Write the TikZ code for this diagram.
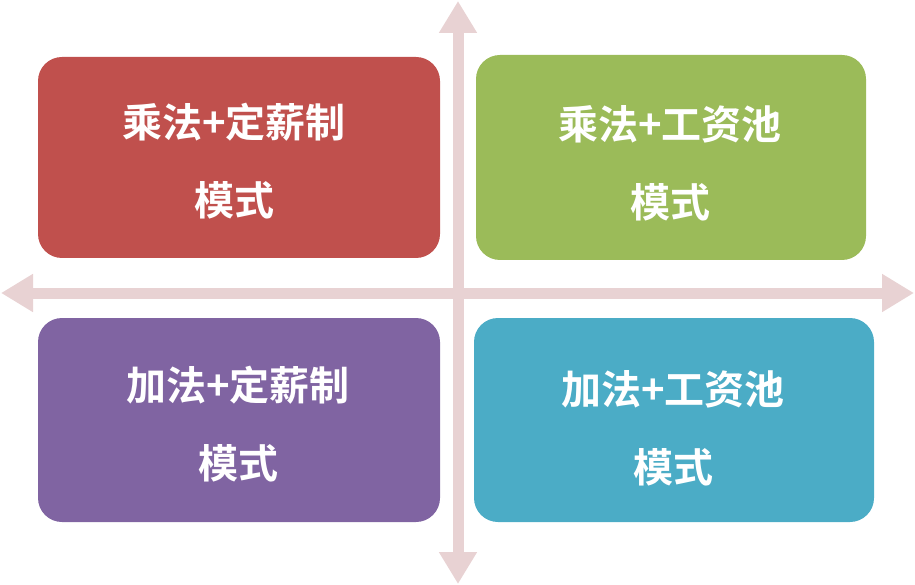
\documentclass[tikz,border=0pt]{standalone}
\usepackage{fontspec}
\newfontfamily\cjk{Noto Sans CJK SC Bold}
\usetikzlibrary{arrows.meta}
\definecolor{cred}{HTML}{C0504D}
\definecolor{cgreen}{HTML}{9BBB59}
\definecolor{cpurple}{HTML}{8064A2}
\definecolor{cblue}{HTML}{4BACC6}
\definecolor{axis}{HTML}{E8D2D3}
\tikzset{quad/.style={rounded corners=24pt,draw=none},
 lbl/.style={text=white,font=\cjk\fontsize{40}{78}\selectfont,align=center},
 ax/.style={draw=axis,line width=11pt,{Triangle[length=32pt,width=36pt]}-{Triangle[length=32pt,width=36pt]}}}
\begin{document}
\begin{tikzpicture}[x=1pt,y=-1pt]
\useasboundingbox (0,0) rectangle (915,585);
\fill[quad,cred] (38,57) rectangle (440,258);
\fill[quad,cgreen] (476,55) rectangle (866,260);
\fill[quad,cpurple] (38,318) rectangle (440,522);
\fill[quad,cblue] (474,318) rectangle (874,522);
\coordinate (t) at (458,1); \coordinate (b) at (458,584);
\coordinate (l) at (1,293); \coordinate (r) at (914,293);
\draw[ax] (t) -- (b);
\draw[ax] (l) -- (r);
\node[lbl] (a) at (234,161) {乘法+定薪制\\模式};
\node[lbl] (g) at (670,163) {乘法+工资池\\模式};
\node[lbl] (p) at (238,424) {加法+定薪制\\模式};
\node[lbl] (q) at (673,428) {加法+工资池\\模式};
\end{tikzpicture}
\end{document}
